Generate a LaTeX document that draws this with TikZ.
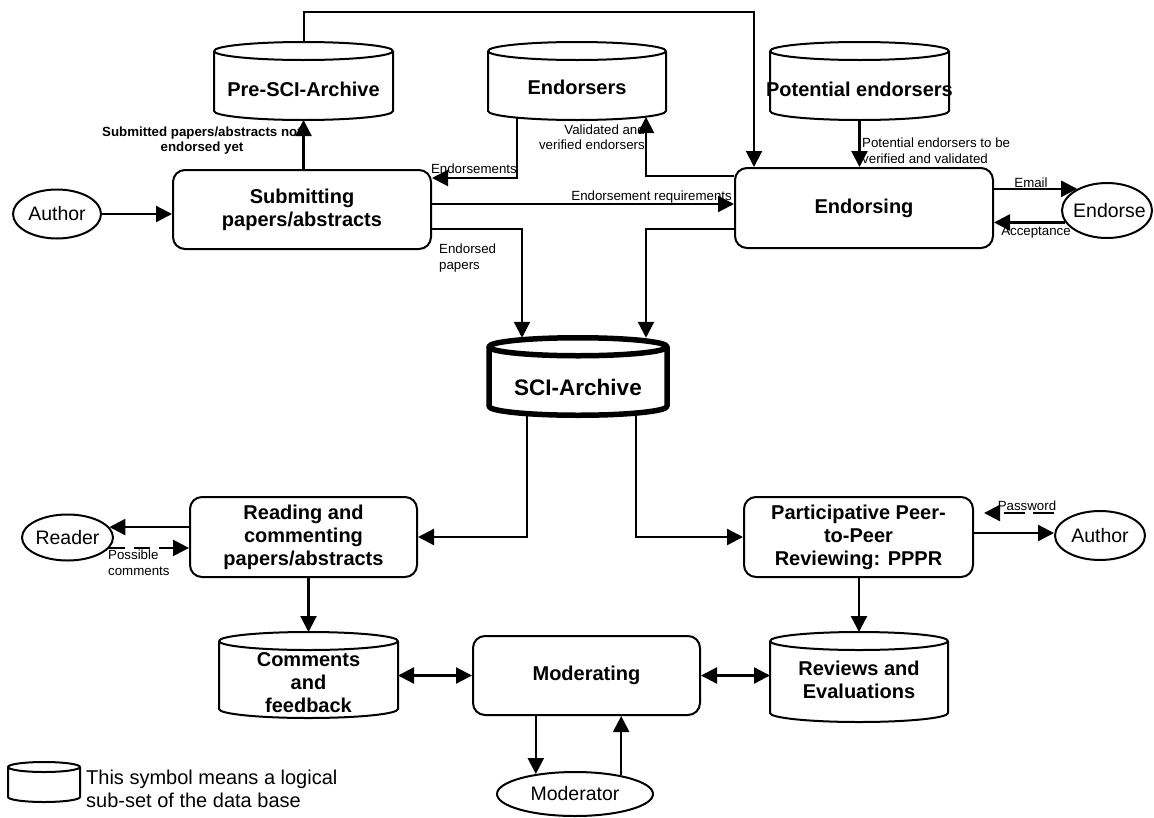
\documentclass[tikz,border=0pt]{standalone}
\usepackage{fontspec}
\setmainfont{Liberation Sans}
\usetikzlibrary{arrows.meta,shapes.geometric,calc}

\newcommand{\boxfont}{\fontsize{20}{23}\selectfont\bfseries}
\newcommand{\scifont}{\fontsize{22.5}{26}\selectfont\bfseries}
\newcommand{\actorfont}{\fontsize{19.5}{23}\selectfont}
\newcommand{\notefont}{\fontsize{13.3}{15.5}\selectfont}
\newcommand{\noteboldfont}{\fontsize{13.3}{15}\selectfont\bfseries}
\newcommand{\legendfont}{\fontsize{20}{23}\selectfont}

% data store drawn as a cylinder: name, centre, half width, height, cap radius, line width
\newcommand{\dbcyl}[6]{%
  \node[frame, minimum width=2*#3pt, minimum height=#4pt] (#1) at #2 {};
  \draw[line width=#6, line join=round] ([yshift=-#5pt]#1.north) ellipse [x radius=#3pt, y radius=#5pt];
  \draw[line width=#6, line join=round] ([yshift=-#5pt]#1.north west) -- ([yshift=#5pt]#1.south west)
    arc[start angle=180, end angle=360, x radius=#3pt, y radius=#5pt] -- ([yshift=-#5pt]#1.north east);
}

\begin{document}
\begin{tikzpicture}[x=1pt, y=-1pt,
  frame/.style={inner sep=0pt, outer sep=0pt},
  proc/.style={draw, line width=2pt, rounded corners=12pt, inner sep=0pt, align=center, font=\boxfont},
  actor/.style={draw, ellipse, line width=2pt, inner sep=0pt, font=\actorfont},
  storetext/.style={font=\boxfont, align=center, inner sep=0pt},
  note/.style={font=\notefont, inner sep=0pt},
  notebold/.style={font=\noteboldfont, inner sep=0pt},
  flow/.style={line width=2.3pt, -{Triangle[length=16pt,width=16pt]}},
  thinflow/.style={line width=2pt, -{Triangle[length=16pt,width=16pt]}},
  biflow/.style={line width=2.3pt, {Triangle[length=16pt,width=16pt]}-{Triangle[length=16pt,width=16pt]}}
]
\useasboundingbox (0,0) rectangle (1154,817);

% processes
\node[proc, minimum width=258pt, minimum height=79pt] (submit) at (302,209.5) {Submitting\\papers/abstracts};
\node[proc, minimum width=258pt, minimum height=80pt] (endorsing) at (864,208) {Endorsing};
\node[proc, minimum width=227pt, minimum height=80pt] (reading) at (303.5,537) {Reading and\\commenting\\papers/abstracts};
\node[proc, minimum width=229pt, minimum height=80pt] (pppr) at (858.5,537) {Participative Peer-\\to-Peer\\Reviewing: PPPR};
\node[proc, minimum width=227pt, minimum height=79pt] (moderating) at (586.5,675.5) {Moderating};

% data stores
\dbcyl{pre}{(303.5,81)}{89.5}{78}{9}{2pt}
\dbcyl{endorsers}{(577,81)}{89}{78}{9}{2pt}
\dbcyl{potential}{(859.5,81)}{89.5}{78}{9}{2pt}
\dbcyl{sci}{(578,376.5)}{89}{77.5}{9}{5.5pt}
\dbcyl{comments}{(308.5,675)}{89.5}{86}{9}{2pt}
\dbcyl{reviews}{(859,677)}{89}{90}{9}{2pt}
\dbcyl{legend}{(44,782)}{36}{40}{5}{2pt}

\node[storetext] (preT) at (303.5,89) {Pre-SCI-Archive};
\node[storetext] (endorsersT) at (577,87) {Endorsers};
\node[storetext] (potentialT) at (859.5,89) {Potential endorsers};
\node[storetext, font=\scifont] (sciT) at (578,387) {SCI-Archive};
\node[storetext] (commentsT) at (308.5,683) {Comments\\and\\feedback};
\node[storetext] (reviewsT) at (859,680) {Reviews and\\Evaluations};

% external actors
\node[actor, minimum width=88pt, minimum height=49pt] (author1) at (57,214) {\makebox[0pt]{Author}};
\node[actor, minimum width=90pt, minimum height=55pt] (endorse) at (1107,210.5) {\makebox[0pt]{\hspace{5pt}Endorse}};
\node[actor, minimum width=91pt, minimum height=46pt] (reader) at (67.5,537.5) {\makebox[0pt]{Reader}};
\node[actor, minimum width=90pt, minimum height=49pt] (author2) at (1100,535.5) {\makebox[0pt]{Author}};
\node[actor, minimum width=156pt, minimum height=44pt] (moderator) at (575,794) {\makebox[0pt]{Moderator}};

% submission side
\draw[flow] (author1.east) -- (author1.east -| submit.west);
\draw[flow] (pre.south |- submit.north) -- (pre.south);
\node[notebold, align=center] (lblNotEndorsed) at (202,141) {Submitted papers/abstracts not\\endorsed yet};
\draw[thinflow] (pre.north) -- (pre.north |- 0,12) -| ($(endorsing.north west)+(20,0)$);

% endorsement exchanges
\draw[thinflow] ($(endorsers.south)+(-60,-3)$) |- (submit.east |- 0,178);
\node[note, anchor=east] (lblEndorsements) at (517,169) {Endorsements};
\draw[thinflow] (endorsing.west |- 0,176) -| ($(endorsers.south)+(69,-3)$);
\node[note, align=right, anchor=east] (lblValidated) at (645,137) {Validated and\\verified endorsers};
\draw[flow] (submit.east |- 0,204) -- (endorsing.west |- 0,204);
\node[note, anchor=east] (lblRequirements) at (732,197) {Endorsement requirements};
\draw[flow] (potential.south) -- (potential.south |- endorsing.north);
\node[note, align=left, anchor=west] (lblPotential) at (862,150.5) {Potential endorsers to be\\verified and validated};
\draw[flow] (endorsing.east |- endorse.144) -- (endorse.144);
\node[note] (lblEmail) at (1031,183) {Email};
\draw[flow] (endorse.196) -- (endorse.196 -| endorsing.east);
\node[note] (lblAcceptance) at (1036,232) {Acceptance};

% into the archive
\draw[flow] (submit.east |- 0,229) -| ($(sci.north)+(-56,0)$);
\node[note, align=left, anchor=west] (lblEndorsed) at (439,258) {Endorsed\\papers};
\draw[flow] (endorsing.west |- 0,229) -| ($(sci.north)+(68,0)$);

% out of the archive
\draw[flow] ($(sci.south)+(-51,0)$) |- (reading.east);
\draw[flow] ($(sci.south)+(58,0)$) |- (pppr.west);

% reading and commenting
\draw[flow] (reading.west |- reader.14) -- (reader.14);
\draw[flow, dash pattern=on 16pt off 9pt] (reader.-14) -- (reader.-14 -| reading.west);
\node[note, align=left, anchor=north west] (lblPossible) at (108,550) {Possible\\comments};
\draw[flow] (comments.north |- reading.south) -- (comments.north);

% reviewing
\draw[flow] (pppr.east |- 0,533) -- (author2.west |- 0,533);
\coordinate (pwStart) at ($(author2.west)+(0,-22.5)$);
\draw[flow, dash pattern=on 21pt off 8pt, shorten >=10pt] (pwStart) -- (pwStart -| pppr.east);
\node[note] (lblPassword) at (1027,506) {Password};
\draw[flow] (reviews.north |- pppr.south) -- (reviews.north);

% moderation
\draw[biflow] (comments.east |- moderating.west) -- (moderating.west);
\draw[biflow] (moderating.east) -- (moderating.east -| reviews.west);
\draw[flow] (moderator.153 |- moderating.south) -- (moderator.153);
\draw[flow] (moderator.22) -- (moderator.22 |- moderating.south);

% legend
\node[font=\legendfont, align=left, anchor=west, inner sep=0pt] (legendT) at (86,788.5) {This symbol means a logical\\sub-set of the data base};

\end{tikzpicture}
\end{document}
